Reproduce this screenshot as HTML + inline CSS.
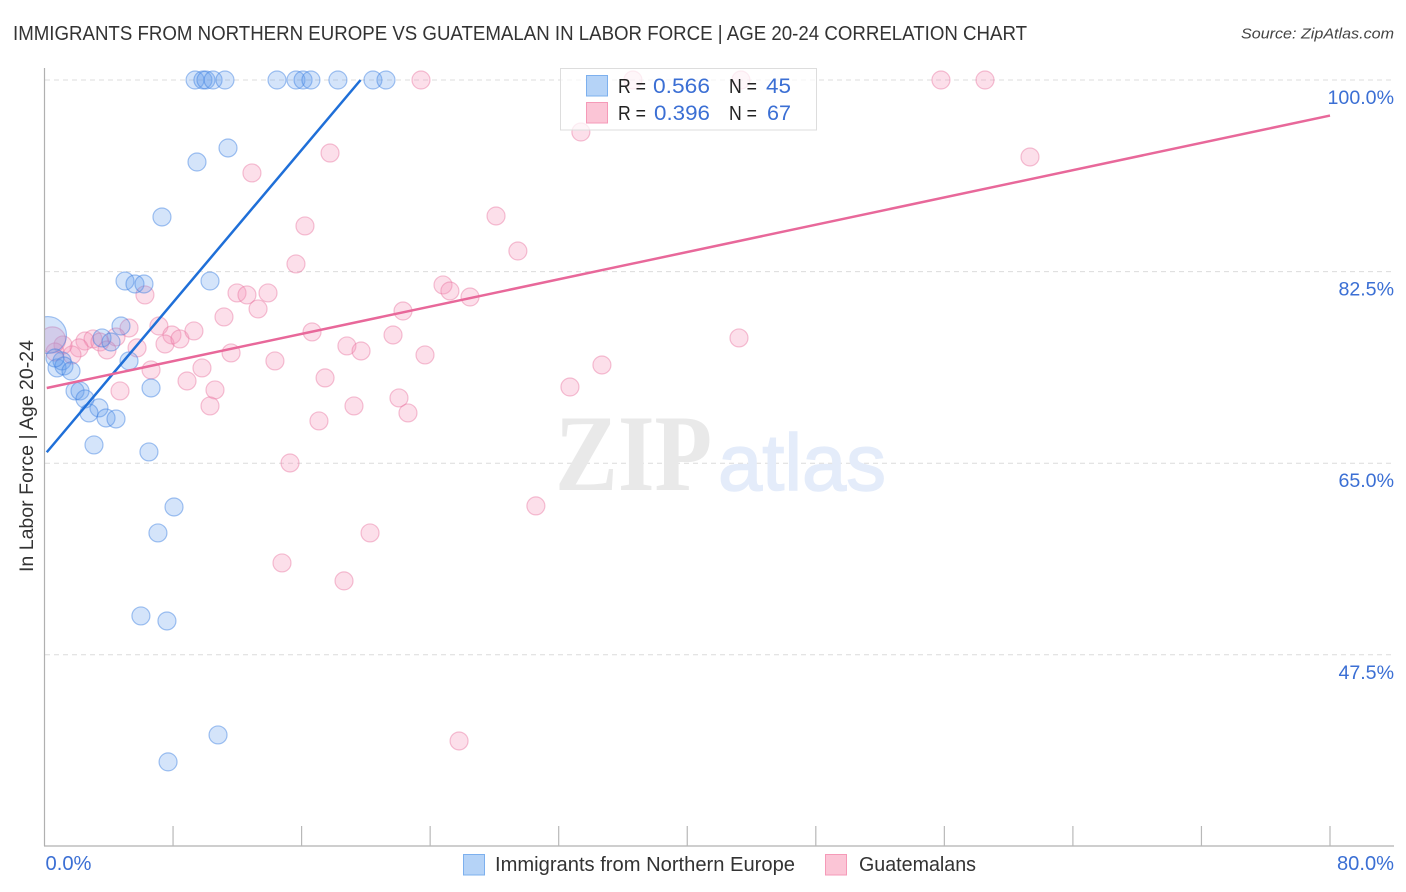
<!DOCTYPE html>
<html lang="en">
<head>
<meta charset="utf-8">
<title>Immigrants from Northern Europe vs Guatemalan in Labor Force | Age 20-24 Correlation Chart</title>
<style>
  html,body{margin:0;padding:0;background:#fff;}
  svg{display:block;font-family:"Liberation Sans",sans-serif;}
</style>
</head>
<body>
<svg id="chart" width="1406" height="892" viewBox="0 0 1406 892" xmlns="http://www.w3.org/2000/svg">
  <defs>
    <clipPath id="plot-clip"><rect x="45" y="60" width="1349" height="786"/></clipPath>
  </defs>
  <rect width="1406" height="892" fill="#ffffff"/>
  <text x="13" y="40" font-size="20" fill="#333333" textLength="1014" lengthAdjust="spacingAndGlyphs">IMMIGRANTS FROM NORTHERN EUROPE VS GUATEMALAN IN LABOR FORCE | AGE 20-24 CORRELATION CHART</text>
  <text x="1394" y="38.5" font-size="15" font-style="italic" fill="#444444" text-anchor="end" textLength="153" lengthAdjust="spacingAndGlyphs">Source: ZipAtlas.com</text>
  <text transform="translate(33,456) rotate(-90)" font-size="19" fill="#333333" text-anchor="middle" textLength="232" lengthAdjust="spacingAndGlyphs">In Labor Force | Age 20-24</text>

  <g id="grid"></g>

  <g>
    <text x="555" y="490" font-size="109" font-weight="bold" fill="#e9e9e9" style="font-family:'Liberation Serif',serif" textLength="157" lengthAdjust="spacingAndGlyphs">ZIP</text>
    <text x="718" y="490" font-size="80" fill="#e4ecfa" stroke="#e4ecfa" stroke-width="1.5" textLength="168" lengthAdjust="spacingAndGlyphs">atlas</text>
  </g>

  <g id="points" clip-path="url(#plot-clip)"></g>
  <g id="trends"></g>
  <g id="axes"></g>
  <g id="tick-labels"></g>

  <g>
    <rect x="560.5" y="68.5" width="256" height="61.5" fill="#ffffff" fill-opacity="0.72" stroke="#dddddd" stroke-width="1"/>
    <rect x="586.5" y="75.5" width="21" height="20.5" fill="#b5d3f7" stroke="#7db0ee" stroke-width="1"/>
    <rect x="586.5" y="102.5" width="21" height="20.5" fill="#fbc5d6" stroke="#f59ab8" stroke-width="1"/>
    <text x="618" y="93" font-size="20" fill="#222222" textLength="28" lengthAdjust="spacingAndGlyphs">R =</text>
    <text x="653" y="93" font-size="21" fill="#3b6fd4" textLength="57" lengthAdjust="spacingAndGlyphs">0.566</text>
    <text x="729" y="93" font-size="20" fill="#222222" textLength="28" lengthAdjust="spacingAndGlyphs">N =</text>
    <text x="766" y="93" font-size="21" fill="#3b6fd4" textLength="25" lengthAdjust="spacingAndGlyphs">45</text>
    <text x="618" y="120" font-size="20" fill="#222222" textLength="28" lengthAdjust="spacingAndGlyphs">R =</text>
    <text x="654" y="120" font-size="21" fill="#3b6fd4" textLength="56" lengthAdjust="spacingAndGlyphs">0.396</text>
    <text x="729" y="120" font-size="20" fill="#222222" textLength="28" lengthAdjust="spacingAndGlyphs">N =</text>
    <text x="767" y="120" font-size="21" fill="#3b6fd4" textLength="24" lengthAdjust="spacingAndGlyphs">67</text>
  </g>

  <g>
    <rect x="463.5" y="854.5" width="21" height="20.5" fill="#b5d3f7" stroke="#7db0ee" stroke-width="1"/>
    <text x="495" y="871" font-size="20" fill="#333333" textLength="300" lengthAdjust="spacingAndGlyphs">Immigrants from Northern Europe</text>
    <rect x="825.5" y="854.5" width="21" height="20.5" fill="#fbc5d6" stroke="#f59ab8" stroke-width="1"/>
    <text x="859" y="871" font-size="20" fill="#333333" textLength="117" lengthAdjust="spacingAndGlyphs">Guatemalans</text>
  </g>
</svg>
<script>
const yTicks = [100, 82.5, 65, 47.5];
const yTickLabels = ['100.0%', '82.5%', '65.0%', '47.5%'];
const xTicks = [0, 8, 16, 24, 32, 40, 48, 56, 64, 72, 80];
const xEndLabels = ['0.0%', '80.0%'];

const blueX = [9.37,9.86,10.05,10.49,11.23,14.47,15.65,16.09,16.58,18.26,20.44,21.25,
  11.42,9.49,7.31,5.01,5.63,6.19,10.30,4.76,3.58,4.14,5.26,6.63,
  0.78,1.09,1.21,1.65,1.90,2.21,2.52,3.39,2.77,3.83,4.45,3.08,6.50,
  8.06,7.06,6.00,7.62,10.80,7.69,0.22,0.65];
const blueY = [100,100,100,100,100,100,100,100,100,100,100,100,
  93.79,92.51,87.49,81.64,81.37,81.37,81.64,77.53,76.44,76.07,74.34,71.87,
  73.70,74.34,73.88,73.42,71.60,71.60,70.87,70.05,69.59,69.13,69.04,66.67,66.03,
  61.00,58.63,51.05,50.59,40.18,37.72,76.71,74.61];
const blueWeight = [1,1,1,1,1,1,1,1,1,1,1,1,
  1,1,1,1,1,1,1,1,1,1,1,1,
  1,1,1,1,1,1,1,1,1,1,1,1,1,
  1,1,1,1,1,1,4.2,1];

const pinkX = [23.43,36.62,43.34,55.79,58.53,33.38,61.33,17.77,12.91,16.21,15.65,28.10,29.46,13.91,
  24.80,25.23,26.48,22.31,6.25,11.98,12.60,13.29,11.17,5.26,7.12,7.93,7.50,8.43,9.30,
  4.45,2.52,3.02,3.45,3.89,5.76,2.15,1.71,1.15,0.65,4.70,6.63,8.87,9.80,11.61,10.61,10.30,
  16.65,21.69,18.82,19.70,23.68,14.34,17.46,22.06,19.26,22.62,17.08,15.28,30.58,20.26,14.78,18.64,
  25.80,43.22,34.69,32.70,0.50];
const pinkY = [100,100,100,100,100,95.25,92.97,93.33,91.51,86.67,83.20,87.58,84.38,80.55,
  81.28,80.73,80.18,78.90,80.37,80.55,80.37,79.09,78.36,77.35,77.53,76.71,75.89,76.35,77.08,
  76.53,76.16,76.35,76.07,75.34,75.53,75.53,74.89,75.80,75.16,71.60,73.52,72.51,73.70,75.07,71.69,70.23,
  76.99,76.71,75.71,75.25,74.89,74.34,72.79,70.96,70.23,69.59,68.86,65.02,61.10,58.63,55.89,54.25,
  39.63,76.44,73.97,71.96,76.26];
const pinkWeight = [1,1,1,1,1,1,1,1,1,1,1,1,1,1,
  1,1,1,1,1,1,1,1,1,1,1,1,1,1,1,
  1,1,1,1,1,1,1,1,1,1,1,1,1,1,1,1,1,
  1,1,1,1,1,1,1,1,1,1,1,1,1,1,1,1,
  1,1,1,1,2.1];

const blueTrendX = [0.14, 19.67];
const blueTrendY = [66.0, 100];
const pinkTrendX = [0.14, 80];
const pinkTrendY = [71.87, 96.75];

const xScale = v => 44.5 + v * (1285.5 / 80);
const yScale = v => 80 + (100 - v) * (191.6 / 17.5);
const rScale = w => 9 * Math.sqrt(w);

const NS = 'http://www.w3.org/2000/svg';
function make(tag, parent, attrs, text) {
  const el = document.createElementNS(NS, tag);
  for (const k in attrs) el.setAttribute(k, attrs[k]);
  if (text !== undefined) el.textContent = text;
  parent.appendChild(el);
  return el;
}

const grid = document.getElementById('grid');
yTicks.forEach(t => {
  const line = make('line', grid, {x1: 45, x2: 1394, y1: yScale(t), y2: yScale(t), stroke: '#dcdcdc', 'stroke-width': 1, 'stroke-dasharray': '5 4'});
  
  
});

const pointsGroup = document.getElementById('points');
function drawSeries(xs, ys, ws, fill, stroke, name) {
  xs.forEach((x, i) => {
    const c = make('circle', pointsGroup, {cx: xScale(x), cy: yScale(ys[i]), r: rScale(ws[i]), fill: fill, stroke: stroke, 'stroke-width': 1.2});
    
    
  });
}
drawSeries(pinkX, pinkY, pinkWeight, 'rgba(244,150,185,0.3)', 'rgba(232,110,155,0.42)', 'guatemalan-point');
drawSeries(blueX, blueY, blueWeight, 'rgba(95,155,235,0.27)', 'rgba(55,125,225,0.45)', 'immigrant-point');

const trends = document.getElementById('trends');
const blueLine = make('line', trends, {x1: xScale(blueTrendX[0]), y1: yScale(blueTrendY[0]), x2: xScale(blueTrendX[1]), y2: yScale(blueTrendY[1]), stroke: '#1f6fd8', 'stroke-width': 2.5});


const pinkLine = make('line', trends, {x1: xScale(pinkTrendX[0]), y1: yScale(pinkTrendY[0]), x2: xScale(pinkTrendX[1]), y2: yScale(pinkTrendY[1]), stroke: '#e8689a', 'stroke-width': 2.5});



const axes = document.getElementById('axes');
const yAxisLine = make('line', axes, {x1: 44.5, x2: 44.5, y1: 68, y2: 846, stroke: '#b0b0b0', 'stroke-width': 1.2});


const xAxisLine = make('line', axes, {x1: 44, x2: 1394, y1: 846, y2: 846, stroke: '#b0b0b0', 'stroke-width': 1.2});


xTicks.slice(1).forEach(t => {
  const tick = make('line', axes, {x1: xScale(t), x2: xScale(t), y1: 826, y2: 846, stroke: '#b8b8b8', 'stroke-width': 1.2});
  
  
});

const labels = document.getElementById('tick-labels');
yTickLabels.forEach((label, i) => {
  const txt = make('text', labels, {x: 1394, y: yScale(yTicks[i]) + 24, 'font-size': 19.6, fill: '#3b6fd4', 'text-anchor': 'end'}, label);
  
  
});
const xLabelLeft = make('text', labels, {x: 45.5, y: 870, 'font-size': 20, fill: '#3b6fd4', textLength: 46, lengthAdjust: 'spacingAndGlyphs'}, xEndLabels[0]);


const xLabelRight = make('text', labels, {x: 1394, y: 870, 'font-size': 20, fill: '#3b6fd4', 'text-anchor': 'end', textLength: 57, lengthAdjust: 'spacingAndGlyphs'}, xEndLabels[1]);


</script>
</body>
</html>
